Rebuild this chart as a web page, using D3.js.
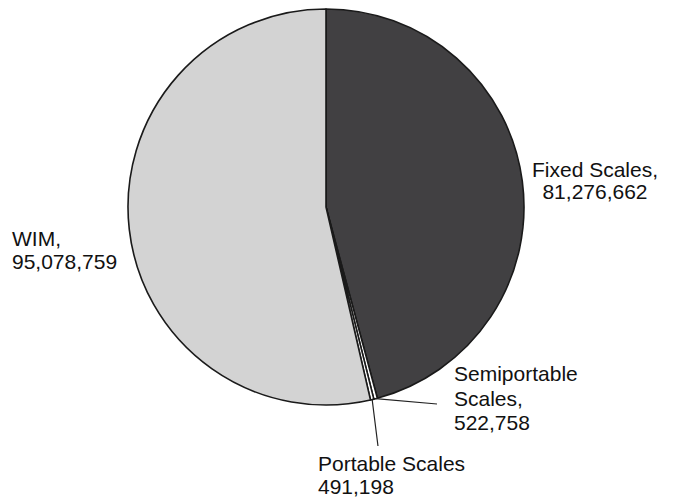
<!DOCTYPE html>
<html><head><meta charset="utf-8">
<script src="https://cdn.jsdelivr.net/npm/d3@7"></script>
<style>body{margin:0;background:#fff}svg{display:block}text{font-family:"Liberation Sans",Arial,Helvetica,sans-serif;font-size:21px;fill:#111}</style>
</head><body><svg id="c" width="673" height="498"></svg>
<script>
const categories = ["Fixed Scales", "Semiportable Scales", "Portable Scales", "WIM"];
const values = [81276662, 522758, 491198, 95078759];
const colors = ["#414042", "#ffffff", "#ffffff", "#d3d3d3"];
const labelLines = [["Fixed Scales,", "81,276,662"], ["Semiportable", "Scales,", "522,758"], ["Portable Scales", "491,198"], ["WIM,", "95,078,759"]];

const svg = d3.select("#c");
const cx = 326, cy = 207, r = 198;
const g = svg.append("g").attr("transform", `translate(${cx},${cy})`);
const pie = d3.pie().sort(null).value(d => d)(values);
const arc = d3.arc().innerRadius(0).outerRadius(r);
g.selectAll("path").data(pie).join("path")
  .attr("d", arc)
  .attr("fill", (d, i) => colors[i])
  .attr("stroke", "#1a1a1a").attr("stroke-width", 1.6).attr("stroke-linejoin", "round");

// label layout
const labelPos = [
  {x: 595, y: 177, anchor: "middle", dy: 22},
  {x: 454, y: 381, anchor: "start", dy: 24.5, line: [437, 404]},
  {x: 318, y: 471, anchor: "start", dy: 23, line: [378, 446]},
  {x: 12, y: 246, anchor: "start", dy: 23}
];
const outer = d3.arc().innerRadius(r).outerRadius(r);
pie.forEach((d, i) => {
  const p = labelPos[i];
  if (p.line) {
    const c = outer.centroid(d);
    svg.append("line")
      .attr("x1", cx + c[0]).attr("y1", cy + c[1])
      .attr("x2", p.line[0]).attr("y2", p.line[1])
      .attr("stroke", "#222").attr("stroke-width", 1.2);
  }
  const t = svg.append("text").attr("x", p.x).attr("y", p.y).attr("text-anchor", p.anchor);
  labelLines[i].forEach((s, k) => t.append("tspan").attr("x", p.x).attr("dy", k ? p.dy : 0).text(s));
});
</script></body></html>
